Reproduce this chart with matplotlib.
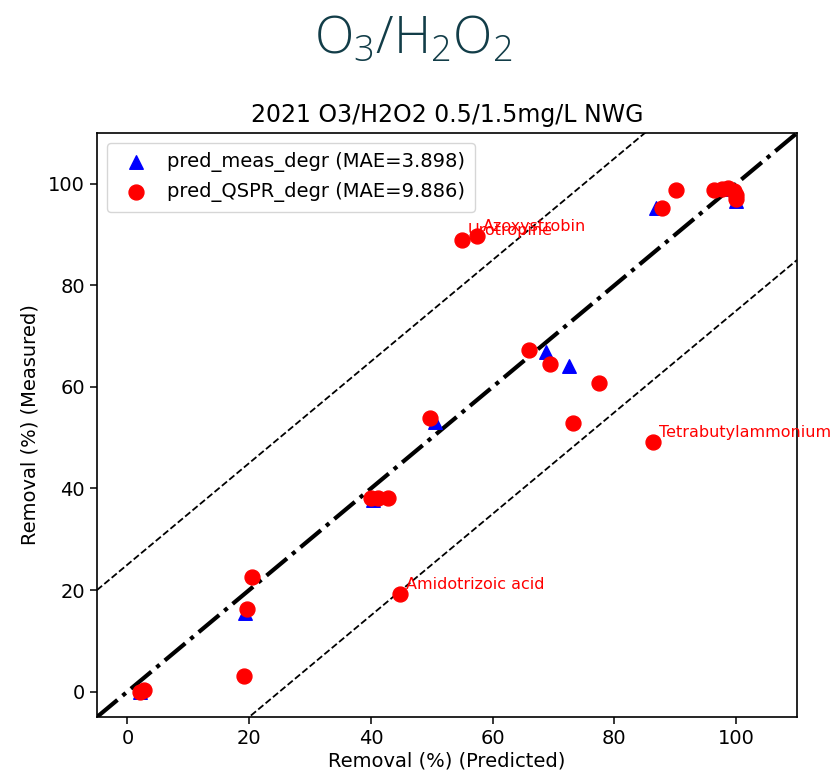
'''
Predicted vs measured removal, O3/H2O2 0.5/1.5 mg/L NWG
'''

import numpy as np
import matplotlib
matplotlib.use('Agg')
import matplotlib.pyplot as plt

# ═══ Data ═════════════════════════════════════════════════════════════

# ─── pred_meas_degr (visible triangles)
meas_pred = [2.0, 19.3, 40.3, 50.5, 68.8, 72.6, 86.8, 100.0, 98.5]
meas_obs  = [0.0, 15.5, 37.8, 53.1, 66.8, 64.2, 95.3, 96.6, 99.0]

# ─── pred_QSPR_degr
qspr_pred = [2.0, 2.7, 19.2, 19.6, 20.4, 44.8, 40.0, 41.1, 42.8, 49.7,
             65.9, 69.5, 73.2, 77.4, 86.4, 54.9, 57.4, 87.8, 90.2,
             96.3, 97.6, 98.6, 99.6, 100.0, 100.0]
qspr_obs  = [0.0, 0.3, 3.0, 16.2, 22.6, 19.3, 38.1, 38.1, 38.1, 53.8,
             67.2, 64.5, 52.8, 60.7, 49.1, 88.9, 89.8, 95.3, 98.8,
             98.8, 99.0, 99.2, 98.6, 97.8, 97.0]

# ─── Outliers labelled
lbl_names = ['Urotropine', 'Azoxystrobin', 'Tetrabutylammonium', 'Amidotrizoic acid']
lbl_pred  = [54.9, 57.4, 86.4, 44.8]
lbl_obs   = [88.9, 89.8, 49.1, 19.3]

mae_meas = 3.898
mae_qspr = 9.886

lims = (-5, 110)
band = 25

# ═══ Figure ═══════════════════════════════════════════════════════════

fig = plt.figure(figsize=(8.33, 7.82), dpi=100)
ax = fig.add_axes([0.1164, 0.0831, 0.8404, 0.7468])

# Slide heading
fig.text(0.496, 0.950, r'$\mathregular{O_3/H_2O_2}$', ha='center', va='center',
         fontsize=37, color='#123d48', family='Open Sans', weight='light')

# ─── Plot ──────────────────────────────────────

ax.scatter(meas_pred, meas_obs, marker='^', s=95, color='blue',
           label=f'pred_meas_degr (MAE={mae_meas:.3f})', zorder=3)
ax.scatter(qspr_pred, qspr_obs, marker='o', s=115, color='red',
           label=f'pred_QSPR_degr (MAE={mae_qspr:.3f})', zorder=4)

for name, x, y in zip(lbl_names, lbl_pred, lbl_obs):
  ax.text(x + 1, y + 1, name, color='red', fontsize=11.5, zorder=5)

# Reference lines
xx = np.array(lims)
ax.plot(xx, xx, color='black', ls='-.', lw=3)
ax.plot(xx, xx + band, color='black', ls='--', lw=1.3)
ax.plot(xx, xx - band, color='black', ls='--', lw=1.3)

# ─── Plot settings

ax.set_title('2021 O3/H2O2 0.5/1.5mg/L NWG', fontsize=17, pad=8)
ax.set_xlabel('Removal (%) (Predicted)', fontsize=14, labelpad=3)
ax.set_ylabel('Removal (%) (Measured)', fontsize=14, labelpad=6)

ax.set_xlim(*lims)
ax.set_ylim(*lims)
ax.set_xticks([0, 20, 40, 60, 80, 100])
ax.set_yticks([0, 20, 40, 60, 80, 100])
ax.tick_params(labelsize=14, length=5, width=1.1)
for s in ax.spines.values():
  s.set_linewidth(1.2)

ax.legend(loc='upper left', fontsize=14, handletextpad=0.6, borderpad=0.5)

fig.savefig('out.png', dpi=100)
